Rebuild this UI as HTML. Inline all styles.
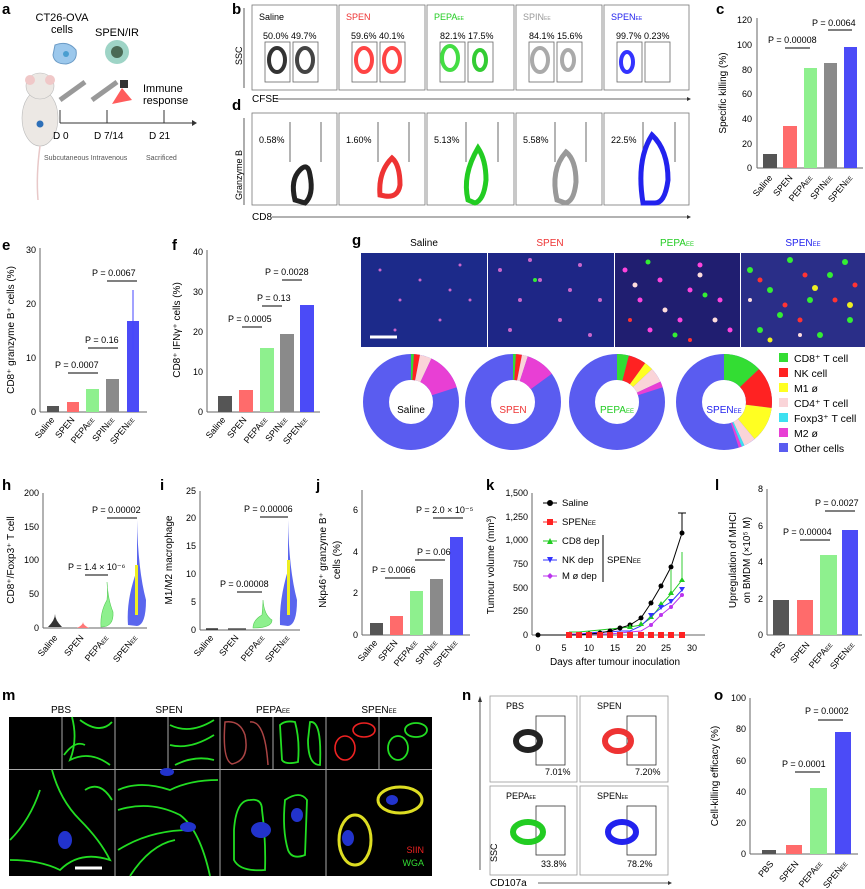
<!DOCTYPE html>
<html><head><meta charset="utf-8"><style>
body{margin:0;background:#fff;}
svg{display:block;font-family:"Liberation Sans",sans-serif;}
</style></head><body>
<svg width="865" height="889" viewBox="0 0 865 889" xmlns="http://www.w3.org/2000/svg">
<g font-weight="bold" font-size="15" fill="#000">
<text x="2" y="14">a</text><text x="232" y="14">b</text><text x="716" y="14">c</text>
<text x="232" y="110">d</text><text x="2" y="250">e</text><text x="172" y="250">f</text>
<text x="352" y="245">g</text><text x="2" y="490">h</text><text x="160" y="490">i</text>
<text x="316" y="490">j</text><text x="486" y="490">k</text><text x="715" y="490">l</text>
<text x="2" y="700">m</text><text x="462" y="700">n</text><text x="714" y="700">o</text>
</g>
<!-- panel a -->
<g font-size="11">
<text x="62" y="21" text-anchor="middle">CT26-OVA</text><text x="62" y="33" text-anchor="middle">cells</text>
<text x="117" y="36" text-anchor="middle">SPEN/IR</text>
<path d="M55 45 Q68 40 76 50 Q78 62 66 64 Q54 64 53 55Z" fill="#9cc8ec" stroke="#6b9bc6"/>
<circle cx="66" cy="54" r="3" fill="#4a9ed0"/>
<circle cx="117" cy="52" r="12" fill="#9ed4c6"/><circle cx="117" cy="52" r="6" fill="#4a6a55"/>
<ellipse cx="40" cy="118" rx="18" ry="28" fill="#ece8e4" stroke="#bbb" stroke-width="0.6"/>
<ellipse cx="40" cy="86" rx="14" ry="13" fill="#ece8e4" stroke="#bbb" stroke-width="0.6"/>
<circle cx="30" cy="80" r="5" fill="#f0c8c8"/><circle cx="50" cy="80" r="5" fill="#f0c8c8"/>
<circle cx="40" cy="124" r="3.5" fill="#2d6fb8"/>
<path d="M40 146 Q36 175 38 200" stroke="#e8c8c8" fill="none" stroke-width="1.5"/>
<path d="M60 100 L85 82" stroke="#999" stroke-width="5"/><path d="M92 100 L117 82" stroke="#999" stroke-width="5"/>
<rect x="120" y="80" width="8" height="8" fill="#333"/><path d="M122 88 L112 104 L132 100Z" fill="#f33" opacity="0.8"/>
<line x1="60" y1="123" x2="192" y2="123" stroke="#333"/><polygon points="192,120 197,123 192,126" fill="#333"/>
<line x1="60" y1="110" x2="60" y2="123" stroke="#333"/><line x1="107" y1="110" x2="107" y2="123" stroke="#333"/><line x1="164" y1="110" x2="164" y2="123" stroke="#333"/>
<text x="53" y="139" font-size="10">D 0</text><text x="94" y="139" font-size="10">D 7/14</text><text x="149" y="139" font-size="10">D 21</text>
<text x="44" y="160" font-size="7" fill="#555">Subcutaneous Intravenous</text><text x="146" y="160" font-size="7" fill="#555">Sacrificed</text>
<text x="143" y="92" font-size="11">Immune</text><text x="143" y="104" font-size="11">response</text>
</g>
<!-- panel b -->
<g font-size="9">
<text x="242" y="65" transform="rotate(-90 242 65)">SSC</text>
<line x1="244" y1="8" x2="244" y2="88" stroke="#333" stroke-width="0.8"/>
<g fill="none" stroke="#777" stroke-width="0.8">
<rect x="252" y="5" width="85" height="85"/><rect x="339" y="5" width="86" height="85"/><rect x="427" y="5" width="87" height="85"/><rect x="516" y="5" width="86" height="85"/><rect x="604" y="5" width="85" height="85"/>
<rect x="252" y="113" width="85" height="92"/><rect x="339" y="113" width="86" height="92"/><rect x="427" y="113" width="87" height="92"/><rect x="516" y="113" width="86" height="92"/><rect x="604" y="113" width="85" height="92"/>
</g>
<text x="259" y="20">Saline</text><text x="346" y="20" fill="#e33">SPEN</text><text x="434" y="20" fill="#2c2">PEPA<tspan font-size="5">EE</tspan></text><text x="523" y="20" fill="#999">SPIN<tspan font-size="5">EE</tspan></text><text x="611" y="20" fill="#22e">SPEN<tspan font-size="5">EE</tspan></text>
<text x="263" y="39">50.0% 49.7%</text><text x="351" y="39">59.6% 40.1%</text><text x="440" y="39">82.1% 17.5%</text><text x="529" y="39">84.1% 15.6%</text><text x="616" y="39">99.7% 0.23%</text>
<g fill="none" stroke="#666" stroke-width="0.8">
<rect x="265" y="42" width="25" height="40"/><rect x="293" y="42" width="25" height="40"/>
<rect x="352" y="42" width="25" height="40"/><rect x="380" y="42" width="25" height="40"/>
<rect x="440" y="42" width="25" height="40"/><rect x="468" y="42" width="25" height="40"/>
<rect x="529" y="42" width="25" height="40"/><rect x="557" y="42" width="25" height="40"/>
<rect x="617" y="42" width="25" height="40"/><rect x="645" y="42" width="25" height="40"/>
</g>
<g stroke-width="4" fill="none">
<ellipse cx="277" cy="60" rx="8" ry="12" stroke="#333"/><ellipse cx="305" cy="60" rx="8" ry="12" stroke="#444"/>
<ellipse cx="364" cy="60" rx="8" ry="12" stroke="#f44"/><ellipse cx="392" cy="60" rx="8" ry="12" stroke="#f44"/>
<ellipse cx="450" cy="58" rx="8" ry="12" stroke="#4d4"/><ellipse cx="480" cy="60" rx="6" ry="10" stroke="#3c3"/>
<ellipse cx="540" cy="60" rx="8" ry="12" stroke="#aaa"/><ellipse cx="568" cy="60" rx="6" ry="10" stroke="#aaa"/>
<ellipse cx="627" cy="62" rx="6" ry="10" stroke="#33f"/>
</g>
<text x="252" y="102" font-size="10">CFSE</text><line x1="276" y1="99" x2="687" y2="99" stroke="#333" stroke-width="0.8"/><polygon points="687,97 691,99 687,101" fill="#333"/>
<text x="242" y="200" transform="rotate(-90 242 200)">Granzyme B</text>
<line x1="244" y1="118" x2="244" y2="205" stroke="#333" stroke-width="0.8"/>
<text x="259" y="143">0.58%</text><text x="346" y="143">1.60%</text><text x="434" y="143">5.13%</text><text x="523" y="143">5.58%</text><text x="611" y="143">22.5%</text>
<g stroke="#444" stroke-width="0.8">
<line x1="290" y1="122" x2="290" y2="162"/><line x1="321" y1="122" x2="321" y2="162"/>
<line x1="378" y1="122" x2="378" y2="162"/><line x1="409" y1="122" x2="409" y2="162"/>
<line x1="466" y1="122" x2="466" y2="162"/><line x1="498" y1="122" x2="498" y2="162"/>
<line x1="555" y1="122" x2="555" y2="162"/><line x1="586" y1="122" x2="586" y2="162"/>
<line x1="643" y1="122" x2="643" y2="162"/><line x1="675" y1="122" x2="675" y2="162"/>
</g>
<g fill="none" stroke-width="5">
<path d="M295 200 Q290 180 300 170 Q308 162 310 175 Q314 195 305 203Z" stroke="#222"/>
<path d="M380 195 Q378 172 392 158 Q400 165 400 185 Q398 198 385 196Z" stroke="#e33"/>
<path d="M468 200 Q462 175 478 148 Q486 160 486 180 Q484 200 475 203Z" stroke="#2c2"/>
<path d="M557 200 Q550 170 566 152 Q576 160 576 182 Q574 202 565 203Z" stroke="#999"/>
<path d="M643 203 Q636 160 652 135 Q668 150 668 180 Q665 203 655 203Z" stroke="#22e"/>
</g>
<text x="252" y="220" font-size="10">CD8</text><line x1="272" y1="217" x2="687" y2="217" stroke="#333" stroke-width="0.8"/><polygon points="687,215 691,217 687,219" fill="#333"/>
</g>
<!-- panel c -->
<g font-size="9">
<line x1="757" y1="18" x2="757" y2="168" stroke="#666"/><line x1="757" y1="168" x2="863" y2="168" stroke="#666"/>
<g text-anchor="end"><text x="752" y="171">0</text><text x="752" y="147">20</text><text x="752" y="122">40</text><text x="752" y="97">60</text><text x="752" y="73">80</text><text x="752" y="48">100</text><text x="752" y="23">120</text></g>
<text x="726" y="93" font-size="10" transform="rotate(-90 726 93)" text-anchor="middle">Specific killing (%)</text>
<rect x="763" y="154" width="14" height="14" fill="#555"/><rect x="783" y="126" width="14" height="42" fill="#ff6b6b"/><rect x="804" y="68" width="13" height="100" fill="#8ef08e"/><rect x="824" y="63" width="13" height="105" fill="#8a8a8a"/><rect x="844" y="47" width="13" height="121" fill="#4b4bf7"/>
<line x1="785" y1="48" x2="810" y2="48" stroke="#000"/><text x="768" y="43">P = 0.00008</text>
<line x1="828" y1="30" x2="852" y2="30" stroke="#000"/><text x="812" y="26">P = 0.0064</text>
<text transform="translate(773,178) rotate(-50)" text-anchor="end">Saline</text><text transform="translate(793,178) rotate(-50)" text-anchor="end">SPEN</text><text transform="translate(813,178) rotate(-50)" text-anchor="end">PEPA<tspan font-size="6">EE</tspan></text><text transform="translate(833,178) rotate(-50)" text-anchor="end">SPIN<tspan font-size="6">EE</tspan></text><text transform="translate(853,178) rotate(-50)" text-anchor="end">SPEN<tspan font-size="6">EE</tspan></text>
</g>
<!-- panel e -->
<g font-size="9">
<line x1="40" y1="248" x2="40" y2="412" stroke="#666"/><line x1="40" y1="412" x2="147" y2="412" stroke="#666"/>
<g text-anchor="end"><text x="36" y="415">0</text><text x="36" y="361">10</text><text x="36" y="307">20</text><text x="36" y="253">30</text></g>
<text x="14" y="330" font-size="10" transform="rotate(-90 14 330)" text-anchor="middle">CD8⁺ granzyme B⁺ cells (%)</text>
<rect x="47" y="406" width="12" height="6" fill="#555"/><rect x="67" y="402" width="12" height="10" fill="#ff6b6b"/><rect x="86" y="389" width="13" height="23" fill="#8ef08e"/><rect x="106" y="379" width="13" height="33" fill="#8a8a8a"/><rect x="127" y="321" width="12" height="91" fill="#4b4bf7"/>
<line x1="133" y1="290" x2="133" y2="350" stroke="#44f"/>
<line x1="68" y1="373" x2="98" y2="373" stroke="#000"/><text x="55" y="368">P = 0.0007</text>
<line x1="88" y1="348" x2="118" y2="348" stroke="#000"/><text x="85" y="343">P = 0.16</text>
<line x1="107" y1="281" x2="137" y2="281" stroke="#000"/><text x="92" y="276">P = 0.0067</text>
<text transform="translate(55,420) rotate(-50)" text-anchor="end">Saline</text><text transform="translate(75,420) rotate(-50)" text-anchor="end">SPEN</text><text transform="translate(95,420) rotate(-50)" text-anchor="end">PEPA<tspan font-size="6">EE</tspan></text><text transform="translate(115,420) rotate(-50)" text-anchor="end">SPIN<tspan font-size="6">EE</tspan></text><text transform="translate(135,420) rotate(-50)" text-anchor="end">SPEN<tspan font-size="6">EE</tspan></text>
</g>
<!-- panel f -->
<g font-size="9">
<line x1="207" y1="250" x2="207" y2="412" stroke="#666"/><line x1="207" y1="412" x2="320" y2="412" stroke="#666"/>
<g text-anchor="end"><text x="203" y="415">0</text><text x="203" y="375">10</text><text x="203" y="335">20</text><text x="203" y="295">30</text><text x="203" y="255">40</text></g>
<text x="180" y="330" font-size="10" transform="rotate(-90 180 330)" text-anchor="middle">CD8⁺ IFNγ⁺ cells (%)</text>
<rect x="218" y="396" width="14" height="16" fill="#555"/><rect x="239" y="390" width="14" height="22" fill="#ff6b6b"/><rect x="260" y="348" width="14" height="64" fill="#8ef08e"/><rect x="280" y="334" width="14" height="78" fill="#8a8a8a"/><rect x="300" y="305" width="14" height="107" fill="#4b4bf7"/>
<line x1="242" y1="327" x2="262" y2="327" stroke="#000"/><text x="228" y="322">P = 0.0005</text>
<line x1="262" y1="306" x2="282" y2="306" stroke="#000"/><text x="257" y="301">P = 0.13</text>
<line x1="282" y1="280" x2="302" y2="280" stroke="#000"/><text x="265" y="275">P = 0.0028</text>
<text transform="translate(226,420) rotate(-50)" text-anchor="end">Saline</text><text transform="translate(247,420) rotate(-50)" text-anchor="end">SPEN</text><text transform="translate(268,420) rotate(-50)" text-anchor="end">PEPA<tspan font-size="6">EE</tspan></text><text transform="translate(288,420) rotate(-50)" text-anchor="end">SPIN<tspan font-size="6">EE</tspan></text><text transform="translate(308,420) rotate(-50)" text-anchor="end">SPEN<tspan font-size="6">EE</tspan></text>
</g>
<!-- panel g -->
<g font-size="10" text-anchor="middle">
<text x="424" y="246">Saline</text><text x="550" y="246" fill="#e33">SPEN</text><text x="677" y="246" fill="#2c2">PEPA<tspan font-size="6">EE</tspan></text><text x="803" y="246" fill="#22e">SPEN<tspan font-size="6">EE</tspan></text>
</g>
<rect x="361" y="253" width="126" height="94" fill="#1c2a8a"/><rect x="488" y="253" width="126" height="94" fill="#1e2686"/><rect x="615" y="253" width="125" height="94" fill="#201e70"/><rect x="741" y="253" width="124" height="94" fill="#2a2e88"/>
<g fill="#c6c"><circle cx="380" cy="270" r="1.5"/><circle cx="400" cy="300" r="1.5"/><circle cx="420" cy="280" r="1.5"/><circle cx="440" cy="320" r="1.5"/><circle cx="460" cy="265" r="1.5"/><circle cx="470" cy="300" r="1.5"/><circle cx="395" cy="330" r="1.5"/><circle cx="450" cy="290" r="1.5"/>
<circle cx="500" cy="270" r="2"/><circle cx="520" cy="300" r="2"/><circle cx="540" cy="280" r="2"/><circle cx="560" cy="320" r="2"/><circle cx="580" cy="265" r="2"/><circle cx="600" cy="300" r="2"/><circle cx="510" cy="330" r="2"/><circle cx="570" cy="290" r="2"/><circle cx="530" cy="260" r="2"/><circle cx="590" cy="335" r="2"/></g>
<g fill="#f4d"><circle cx="625" cy="270" r="2.5"/><circle cx="640" cy="300" r="2.5"/><circle cx="660" cy="280" r="2.5"/><circle cx="680" cy="320" r="2.5"/><circle cx="700" cy="265" r="2.5"/><circle cx="720" cy="300" r="2.5"/><circle cx="650" cy="330" r="2.5"/><circle cx="690" cy="290" r="2.5"/><circle cx="730" cy="330" r="2.5"/></g>
<g fill="#fdd"><circle cx="635" cy="285" r="2.5"/><circle cx="665" cy="310" r="2.5"/><circle cx="700" cy="275" r="2.5"/><circle cx="715" cy="320" r="2.5"/><circle cx="750" cy="300" r="2"/><circle cx="800" cy="335" r="2"/></g>
<g fill="#3e3"><circle cx="648" cy="262" r="2.5"/><circle cx="705" cy="295" r="2.5"/><circle cx="675" cy="335" r="2.5"/><circle cx="535" cy="280" r="2"/>
<circle cx="750" cy="270" r="3"/><circle cx="770" cy="290" r="3"/><circle cx="790" cy="260" r="3"/><circle cx="810" cy="300" r="3"/><circle cx="830" cy="275" r="3"/><circle cx="850" cy="320" r="3"/><circle cx="760" cy="330" r="3"/><circle cx="820" cy="335" r="3"/><circle cx="845" cy="262" r="3"/><circle cx="780" cy="315" r="3"/></g>
<g fill="#f33"><circle cx="760" cy="280" r="2.5"/><circle cx="785" cy="305" r="2.5"/><circle cx="805" cy="275" r="2.5"/><circle cx="835" cy="300" r="2.5"/><circle cx="855" cy="285" r="2.5"/><circle cx="800" cy="320" r="2.5"/><circle cx="630" cy="320" r="2"/><circle cx="690" cy="340" r="2"/></g>
<g fill="#ee2"><circle cx="815" cy="288" r="3"/><circle cx="850" cy="305" r="3"/><circle cx="770" cy="340" r="2.5"/></g>
<line x1="370" y1="337" x2="397" y2="337" stroke="#fff" stroke-width="3"/>
<g fill="none" stroke-width="26">
<circle cx="411" cy="402" r="35" stroke="#5a5cf0"/>
<circle cx="411" cy="402" r="35" pathLength="100" stroke="#3d3" stroke-dasharray="1 100" transform="rotate(-90 411 402)"/>
<circle cx="411" cy="402" r="35" pathLength="100" stroke="#f22" stroke-dasharray="2 100" stroke-dashoffset="-1" transform="rotate(-90 411 402)"/>
<circle cx="411" cy="402" r="35" pathLength="100" stroke="#fad4d8" stroke-dasharray="4 100" stroke-dashoffset="-3" transform="rotate(-90 411 402)"/>
<circle cx="411" cy="402" r="35" pathLength="100" stroke="#e83fd4" stroke-dasharray="13 100" stroke-dashoffset="-7" transform="rotate(-90 411 402)"/>
<circle cx="513" cy="402" r="35" stroke="#5a5cf0"/>
<circle cx="513" cy="402" r="35" pathLength="100" stroke="#3d3" stroke-dasharray="1 100" transform="rotate(-90 513 402)"/>
<circle cx="513" cy="402" r="35" pathLength="100" stroke="#f22" stroke-dasharray="2 100" stroke-dashoffset="-1" transform="rotate(-90 513 402)"/>
<circle cx="513" cy="402" r="35" pathLength="100" stroke="#fad4d8" stroke-dasharray="2 100" stroke-dashoffset="-3" transform="rotate(-90 513 402)"/>
<circle cx="513" cy="402" r="35" pathLength="100" stroke="#e83fd4" stroke-dasharray="10 100" stroke-dashoffset="-5" transform="rotate(-90 513 402)"/>
<circle cx="617" cy="402" r="35" stroke="#5a5cf0"/>
<circle cx="617" cy="402" r="35" pathLength="100" stroke="#3d3" stroke-dasharray="4 100" transform="rotate(-90 617 402)"/>
<circle cx="617" cy="402" r="35" pathLength="100" stroke="#f22" stroke-dasharray="6 100" stroke-dashoffset="-4" transform="rotate(-90 617 402)"/>
<circle cx="617" cy="402" r="35" pathLength="100" stroke="#ff2" stroke-dasharray="3 100" stroke-dashoffset="-10" transform="rotate(-90 617 402)"/>
<circle cx="617" cy="402" r="35" pathLength="100" stroke="#fad4d8" stroke-dasharray="5 100" stroke-dashoffset="-13" transform="rotate(-90 617 402)"/>
<circle cx="617" cy="402" r="35" pathLength="100" stroke="#e83fd4" stroke-dasharray="2 100" stroke-dashoffset="-18" transform="rotate(-90 617 402)"/>
<circle cx="724" cy="402" r="35" stroke="#5a5cf0"/>
<circle cx="724" cy="402" r="35" pathLength="100" stroke="#3d3" stroke-dasharray="13 100" transform="rotate(-90 724 402)"/>
<circle cx="724" cy="402" r="35" pathLength="100" stroke="#f22" stroke-dasharray="14 100" stroke-dashoffset="-13" transform="rotate(-90 724 402)"/>
<circle cx="724" cy="402" r="35" pathLength="100" stroke="#ff2" stroke-dasharray="12 100" stroke-dashoffset="-27" transform="rotate(-90 724 402)"/>
<circle cx="724" cy="402" r="35" pathLength="100" stroke="#fad4d8" stroke-dasharray="4 100" stroke-dashoffset="-39" transform="rotate(-90 724 402)"/>
<circle cx="724" cy="402" r="35" pathLength="100" stroke="#3de0f0" stroke-dasharray="1 100" stroke-dashoffset="-43" transform="rotate(-90 724 402)"/>
<circle cx="724" cy="402" r="35" pathLength="100" stroke="#e83fd4" stroke-dasharray="1 100" stroke-dashoffset="-44" transform="rotate(-90 724 402)"/>
</g>
<g font-size="10" text-anchor="middle"><text x="411" y="413">Saline</text><text x="513" y="413" fill="#e33">SPEN</text><text x="617" y="413" fill="#2c2">PEPA<tspan font-size="6">EE</tspan></text><text x="724" y="413" fill="#22e">SPEN<tspan font-size="6">EE</tspan></text></g>
<g font-size="10.5">
<rect x="779" y="353" width="9" height="9" fill="#3d3"/><text x="794" y="362">CD8⁺ T cell</text>
<rect x="779" y="368" width="9" height="9" fill="#f22"/><text x="794" y="377">NK cell</text>
<rect x="779" y="383" width="9" height="9" fill="#ff2"/><text x="794" y="392">M1 ø</text>
<rect x="779" y="398" width="9" height="9" fill="#fad4d8"/><text x="794" y="407">CD4⁺ T cell</text>
<rect x="779" y="413" width="9" height="9" fill="#3de0f0"/><text x="794" y="422">Foxp3⁺ T cell</text>
<rect x="779" y="428" width="9" height="9" fill="#e83fd4"/><text x="794" y="437">M2 ø</text>
<rect x="779" y="443" width="9" height="9" fill="#5a5cf0"/><text x="794" y="452">Other cells</text>
</g>
<!-- h -->
<g font-size="9">
<line x1="43" y1="493" x2="43" y2="628" stroke="#666"/><line x1="43" y1="628" x2="147" y2="628" stroke="#666"/>
<g text-anchor="end"><text x="39" y="631">0</text><text x="39" y="597">50</text><text x="39" y="563">100</text><text x="39" y="530">150</text><text x="39" y="496">200</text></g>
<text x="14" y="560" font-size="10" transform="rotate(-90 14 560)" text-anchor="middle">CD8⁺/Foxp3⁺ T cell</text>
<path d="M48 627 Q55 620 55 614 Q55 620 62 627Z" fill="#333"/><path d="M77 628 Q83 625 83 622 Q83 625 89 628Z" fill="#f77"/>
<path d="M101 627 Q100 612 107 600 Q108 590 107 582 Q108 600 113 612 Q114 627 101 627Z" fill="#8ef08e" stroke="#5c5" stroke-width="0.6"/>
<path d="M128 625 Q126 600 137 570 Q137 540 137 520 Q138 570 146 600 Q146 625 137 626Z" fill="#5a66ee"/>
<rect x="135" y="565" width="3" height="50" fill="#ee2"/>
<line x1="85" y1="575" x2="108" y2="575" stroke="#000"/><text x="68" y="570">P = 1.4 × 10⁻⁶</text>
<line x1="107" y1="518" x2="137" y2="518" stroke="#000"/><text x="92" y="513">P = 0.00002</text>
<text transform="translate(58,638) rotate(-50)" text-anchor="end">Saline</text><text transform="translate(84,638) rotate(-50)" text-anchor="end">SPEN</text><text transform="translate(109,638) rotate(-50)" text-anchor="end">PEPA<tspan font-size="6">EE</tspan></text><text transform="translate(138,638) rotate(-50)" text-anchor="end">SPEN<tspan font-size="6">EE</tspan></text>
</g>
<!-- i -->
<g font-size="9">
<line x1="200" y1="491" x2="200" y2="630" stroke="#666"/><line x1="200" y1="630" x2="300" y2="630" stroke="#666"/>
<g text-anchor="end"><text x="196" y="633">0</text><text x="196" y="605">5</text><text x="196" y="577">10</text><text x="196" y="549">15</text><text x="196" y="521">20</text><text x="196" y="494">25</text></g>
<text x="172" y="560" font-size="10" transform="rotate(-90 172 560)" text-anchor="middle">M1/M2 macrophage</text>
<line x1="206" y1="629" x2="218" y2="629" stroke="#333" stroke-width="1.5"/><line x1="228" y1="629" x2="246" y2="629" stroke="#555" stroke-width="1.5"/>
<path d="M253 628 Q253 620 262 615 Q263 605 263 600 Q264 615 272 620 Q272 628 253 628Z" fill="#8ef08e" stroke="#5c5" stroke-width="0.6"/>
<path d="M280 625 Q279 600 288 570 Q288 540 288 520 Q289 570 297 600 Q297 625 288 626Z" fill="#5a66ee"/>
<rect x="287" y="560" width="3" height="55" fill="#ee2"/>
<line x1="237" y1="592" x2="262" y2="592" stroke="#000"/><text x="220" y="587">P = 0.00008</text>
<line x1="260" y1="517" x2="288" y2="517" stroke="#000"/><text x="244" y="512">P = 0.00006</text>
<text transform="translate(214,638) rotate(-50)" text-anchor="end">Saline</text><text transform="translate(239,638) rotate(-50)" text-anchor="end">SPEN</text><text transform="translate(265,638) rotate(-50)" text-anchor="end">PEPA<tspan font-size="6">EE</tspan></text><text transform="translate(290,638) rotate(-50)" text-anchor="end">SPEN<tspan font-size="6">EE</tspan></text>
</g>
<!-- j -->
<g font-size="9">
<line x1="362" y1="490" x2="362" y2="635" stroke="#666"/><line x1="362" y1="635" x2="470" y2="635" stroke="#666"/>
<g text-anchor="end"><text x="358" y="638">0</text><text x="358" y="596">2</text><text x="358" y="555">4</text><text x="358" y="513">6</text></g>
<text x="326" y="560" font-size="10" transform="rotate(-90 326 560)" text-anchor="middle">Nkp46⁺ granzyme B⁺</text><text x="340" y="560" font-size="10" transform="rotate(-90 340 560)" text-anchor="middle">cells (%)</text>
<rect x="370" y="623" width="13" height="12" fill="#555"/><rect x="390" y="616" width="13" height="19" fill="#ff6b6b"/><rect x="410" y="591" width="13" height="44" fill="#8ef08e"/><rect x="430" y="579" width="13" height="56" fill="#8a8a8a"/><rect x="450" y="537" width="13" height="98" fill="#4b4bf7"/>
<line x1="385" y1="578" x2="410" y2="578" stroke="#000"/><text x="372" y="573">P = 0.0066</text>
<line x1="415" y1="560" x2="445" y2="560" stroke="#000"/><text x="417" y="555">P = 0.06</text>
<line x1="433" y1="518" x2="463" y2="518" stroke="#000"/><text x="416" y="513">P = 2.0 × 10⁻⁵</text>
<text transform="translate(378,643) rotate(-50)" text-anchor="end">Saline</text><text transform="translate(398,643) rotate(-50)" text-anchor="end">SPEN</text><text transform="translate(418,643) rotate(-50)" text-anchor="end">PEPA<tspan font-size="6">EE</tspan></text><text transform="translate(438,643) rotate(-50)" text-anchor="end">SPIN<tspan font-size="6">EE</tspan></text><text transform="translate(458,643) rotate(-50)" text-anchor="end">SPEN<tspan font-size="6">EE</tspan></text>
</g>
<!-- k -->
<g font-size="9">
<line x1="532" y1="493" x2="532" y2="635" stroke="#666"/><line x1="532" y1="635" x2="705" y2="635" stroke="#666"/>
<g text-anchor="end"><text x="528" y="638">0</text><text x="528" y="614">250</text><text x="528" y="591">500</text><text x="528" y="567">750</text><text x="528" y="543">1,000</text><text x="528" y="520">1,250</text><text x="528" y="496">1,500</text></g>
<text x="494" y="565" font-size="10" transform="rotate(-90 494 565)" text-anchor="middle">Tumour volume (mm³)</text>
<g text-anchor="middle"><text x="538" y="651">0</text><text x="564" y="651">5</text><text x="589" y="651">10</text><text x="615" y="651">15</text><text x="641" y="651">20</text><text x="666" y="651">25</text><text x="692" y="651">30</text></g>
<text x="615" y="665" font-size="10" text-anchor="middle">Days after tumour inoculation</text>
<line x1="682" y1="513" x2="682" y2="533" stroke="#000"/><line x1="678" y1="513" x2="686" y2="513" stroke="#000"/>
<line x1="682" y1="552" x2="682" y2="580" stroke="#3c3"/><line x1="671" y1="570" x2="671" y2="593" stroke="#3c3"/>
<polyline points="569,632 579,632 589,631 600,630 610,629 620,628 630,627 641,625 651,618 661,605 671,594 682,580" fill="none" stroke="#2c2" stroke-width="1"/>
<polyline points="569,634 579,634 589,633 600,632 610,632 620,631 630,631 641,626 651,616 661,608 671,602 682,590" fill="none" stroke="#33f" stroke-width="1"/>
<polyline points="569,634 579,634 589,634 600,634 610,634 620,633 630,632 641,631 651,625 661,615 671,607 682,595" fill="none" stroke="#b3e" stroke-width="1"/>
<polyline points="538,635 569,635 579,635 589,634 600,633 610,631 620,628 630,625 641,618 651,603 661,586 671,567 682,533" fill="none" stroke="#000" stroke-width="1"/>
<g fill="#000"><circle cx="538" cy="635" r="2.5"/><circle cx="569" cy="635" r="2.5"/><circle cx="579" cy="635" r="2.5"/><circle cx="589" cy="634" r="2.5"/><circle cx="600" cy="633" r="2.5"/><circle cx="610" cy="631" r="2.5"/><circle cx="620" cy="628" r="2.5"/><circle cx="630" cy="625" r="2.5"/><circle cx="641" cy="618" r="2.5"/><circle cx="651" cy="603" r="2.5"/><circle cx="661" cy="586" r="2.5"/><circle cx="671" cy="567" r="2.5"/><circle cx="682" cy="533" r="2.5"/></g>
<g fill="#2c2"><polygon points="630,624 633,629 627,629"/><polygon points="641,621 644,626 638,626"/><polygon points="651,614 654,619 648,619"/><polygon points="661,601 664,606 658,606"/><polygon points="671,590 674,595 668,595"/><polygon points="682,577 685,582 679,582"/></g>
<g fill="#33f"><polygon points="648,613 654,613 651,618"/><polygon points="658,605 664,605 661,610"/><polygon points="668,599 674,599 671,604"/><polygon points="679,587 685,587 682,592"/></g>
<g fill="#b3e"><circle cx="651" cy="625" r="2"/><circle cx="661" cy="615" r="2"/><circle cx="671" cy="607" r="2"/><circle cx="682" cy="595" r="2"/></g>
<g fill="#f22"><rect x="566" y="632" width="6" height="6"/><rect x="576" y="632" width="6" height="6"/><rect x="586" y="632" width="6" height="6"/><rect x="597" y="632" width="6" height="6"/><rect x="607" y="632" width="6" height="6"/><rect x="617" y="632" width="6" height="6"/><rect x="627" y="632" width="6" height="6"/><rect x="638" y="632" width="6" height="6"/><rect x="648" y="632" width="6" height="6"/><rect x="658" y="632" width="6" height="6"/><rect x="668" y="632" width="6" height="6"/><rect x="679" y="632" width="6" height="6"/></g>
<g font-size="9.5">
<line x1="543" y1="503" x2="557" y2="503" stroke="#000"/><circle cx="550" cy="503" r="3"/><text x="562" y="506">Saline</text>
<line x1="543" y1="522" x2="557" y2="522" stroke="#f22"/><rect x="547" y="519" width="6" height="6" fill="#f22"/><text x="562" y="525">SPEN<tspan font-size="6">EE</tspan></text>
<line x1="543" y1="541" x2="557" y2="541" stroke="#2c2"/><polygon points="550,538 553,544 547,544" fill="#2c2"/><text x="562" y="544">CD8 dep</text>
<line x1="543" y1="560" x2="557" y2="560" stroke="#33f"/><polygon points="547,557 553,557 550,563" fill="#33f"/><text x="562" y="563">NK dep</text>
<line x1="543" y1="576" x2="557" y2="576" stroke="#b3e"/><polygon points="550,573 553,576 550,579 547,576" fill="#b3e"/><text x="562" y="579">M ø dep</text>
<line x1="603" y1="535" x2="603" y2="582" stroke="#000"/><text x="607" y="563">SPEN<tspan font-size="6">EE</tspan></text>
</g>
</g>
<!-- l -->
<g font-size="9">
<line x1="767" y1="489" x2="767" y2="635" stroke="#666"/><line x1="767" y1="635" x2="862" y2="635" stroke="#666"/>
<g text-anchor="end"><text x="763" y="638">0</text><text x="763" y="602">2</text><text x="763" y="565">4</text><text x="763" y="529">6</text><text x="763" y="492">8</text></g>
<text x="736" y="560" font-size="10" transform="rotate(-90 736 560)" text-anchor="middle">Upregulation of MHCI</text><text x="750" y="560" font-size="10" transform="rotate(-90 750 560)" text-anchor="middle">on BMDM (×10⁵ M)</text>
<rect x="773" y="600" width="16" height="35" fill="#555"/><rect x="797" y="600" width="16" height="35" fill="#ff6b6b"/><rect x="820" y="555" width="17" height="80" fill="#8ef08e"/><rect x="842" y="530" width="16" height="105" fill="#4b4bf7"/>
<line x1="800" y1="540" x2="830" y2="540" stroke="#000"/><text x="783" y="535">P = 0.00004</text>
<line x1="825" y1="511" x2="855" y2="511" stroke="#000"/><text x="815" y="506">P = 0.0027</text>
<text transform="translate(786,645) rotate(-50)" text-anchor="end">PBS</text><text transform="translate(810,645) rotate(-50)" text-anchor="end">SPEN</text><text transform="translate(833,645) rotate(-50)" text-anchor="end">PEPA<tspan font-size="6">EE</tspan></text><text transform="translate(855,645) rotate(-50)" text-anchor="end">SPEN<tspan font-size="6">EE</tspan></text>
</g>
<!-- m -->
<g font-size="10" text-anchor="middle"><text x="61" y="713">PBS</text><text x="169" y="713">SPEN</text><text x="273" y="713">PEPA<tspan font-size="6">EE</tspan></text><text x="379" y="713">SPEN<tspan font-size="6">EE</tspan></text></g>
<rect x="9" y="717" width="423" height="159" fill="#000"/>
<g stroke="#aaa" stroke-width="1"><line x1="9" y1="769.5" x2="432" y2="769.5"/><line x1="115" y1="717" x2="115" y2="876"/><line x1="220" y1="717" x2="220" y2="876"/><line x1="326" y1="717" x2="326" y2="876"/><line x1="62" y1="717" x2="62" y2="769"/><line x1="168" y1="717" x2="168" y2="769"/><line x1="273" y1="717" x2="273" y2="769"/><line x1="379" y1="717" x2="379" y2="769"/></g>
<g fill="none" stroke="#2d2" stroke-width="1.8">
<path d="M72 717 Q78 740 70 760 Q90 750 110 765"/><path d="M80 720 Q100 735 112 722"/><path d="M64 755 Q75 740 85 745"/>
<path d="M170 725 Q190 735 214 720"/><path d="M170 745 Q190 750 214 735"/><path d="M175 765 Q195 755 214 760"/>
<path d="M280 725 Q285 720 295 722 Q300 740 298 762 Q285 765 282 760Z"/><path d="M310 722 Q322 720 320 765 Q308 765 308 740Z"/>
<ellipse cx="398" cy="748" rx="10" ry="12"/><ellipse cx="416" cy="730" rx="11" ry="7"/>
<path d="M52 770 Q60 800 80 820 Q100 840 110 860 Q80 850 60 870 Q40 860 10 860"/><path d="M10 840 Q30 820 40 790"/><path d="M85 790 Q100 780 112 800"/>
<path d="M118 790 Q140 780 170 790 Q190 780 218 780"/><path d="M118 810 Q150 800 180 815 Q200 830 210 876"/><path d="M130 876 Q150 845 175 840"/><path d="M118 850 Q150 830 190 830"/>
<path d="M234 830 Q236 800 250 800 Q262 798 262 810 Q266 840 265 870 Q240 872 234 860Z"/><path d="M285 800 Q300 790 307 800 Q306 830 305 855 Q292 860 288 850 Q282 830 285 800Z"/>
</g>
<g fill="none" stroke="#a44" stroke-width="1.5"><path d="M225 722 Q240 720 245 735 Q250 760 232 764 Q222 760 225 722Z"/><path d="M250 722 Q265 720 268 765"/></g>
<g fill="none" stroke="#e22" stroke-width="1.6"><ellipse cx="345" cy="748" rx="10" ry="12"/><ellipse cx="364" cy="730" rx="11" ry="7"/></g>
<g fill="none" stroke="#dd2" stroke-width="3"><ellipse cx="400" cy="800" rx="22" ry="13"/><ellipse cx="355" cy="840" rx="16" ry="25"/></g>
<g fill="#2233cc"><ellipse cx="65" cy="840" rx="7" ry="9"/><ellipse cx="188" cy="827" rx="8" ry="5"/><ellipse cx="167" cy="772" rx="7" ry="4"/><ellipse cx="261" cy="830" rx="10" ry="8"/><ellipse cx="297" cy="815" rx="6" ry="7"/><ellipse cx="392" cy="800" rx="6" ry="5"/><ellipse cx="348" cy="838" rx="6" ry="8"/></g>
<text x="424" y="853" font-size="9" fill="#e22" text-anchor="end">SIIN</text><text x="424" y="866" font-size="9" fill="#3d3" text-anchor="end">WGA</text>
<line x1="75" y1="868" x2="102" y2="868" stroke="#fff" stroke-width="3"/>
<!-- n -->
<g font-size="9">
<line x1="480" y1="698" x2="480" y2="870" stroke="#333" stroke-width="0.8"/><polygon points="478,702 480,696 482,702" fill="#333"/>
<text x="480" y="875" transform="rotate(-90 482 860)">SSC</text>
<text x="490" y="886" font-size="10">CD107a</text><line x1="538" y1="883" x2="668" y2="883" stroke="#333" stroke-width="0.8"/><polygon points="668,881 672,883 668,885" fill="#333"/>
<g fill="none" stroke="#999" stroke-width="0.8">
<rect x="490" y="696" width="87" height="86"/><rect x="580" y="696" width="88" height="86"/><rect x="490" y="786" width="87" height="89"/><rect x="580" y="786" width="88" height="89"/>
</g>
<g fill="none" stroke="#333" stroke-width="0.8"><rect x="536" y="716" width="29" height="49"/><rect x="627" y="716" width="29" height="49"/><rect x="536" y="806" width="29" height="49"/><rect x="627" y="806" width="29" height="49"/></g>
<text x="506" y="709">PBS</text><text x="597" y="709">SPEN</text><text x="506" y="799">PEPA<tspan font-size="5">EE</tspan></text><text x="597" y="799">SPEN<tspan font-size="5">EE</tspan></text>
<text x="545" y="775">7.01%</text><text x="635" y="775">7.20%</text><text x="541" y="867">33.8%</text><text x="627" y="867">78.2%</text>
<g fill="none" stroke-width="6"><ellipse cx="528" cy="741" rx="12" ry="9" stroke="#222"/><ellipse cx="618" cy="741" rx="13" ry="10" stroke="#e33"/><ellipse cx="528" cy="832" rx="15" ry="10" stroke="#2c2"/><ellipse cx="622" cy="832" rx="14" ry="10" stroke="#22e"/></g>
</g>
<!-- o -->
<g font-size="9">
<line x1="750" y1="698" x2="750" y2="854" stroke="#666"/><line x1="750" y1="854" x2="858" y2="854" stroke="#666"/>
<g text-anchor="end"><text x="746" y="857">0</text><text x="746" y="826">20</text><text x="746" y="795">40</text><text x="746" y="764">60</text><text x="746" y="732">80</text><text x="746" y="701">100</text></g>
<text x="718" y="776" font-size="10" transform="rotate(-90 718 776)" text-anchor="middle">Cell-killing efficacy (%)</text>
<rect x="762" y="850" width="14" height="4" fill="#555"/><rect x="786" y="845" width="16" height="9" fill="#ff6b6b"/><rect x="810" y="788" width="17" height="66" fill="#8ef08e"/><rect x="835" y="732" width="16" height="122" fill="#4b4bf7"/>
<line x1="795" y1="772" x2="820" y2="772" stroke="#000"/><text x="782" y="767">P = 0.0001</text>
<line x1="818" y1="720" x2="843" y2="720" stroke="#000"/><text x="805" y="714">P = 0.0002</text>
<text transform="translate(774,864) rotate(-50)" text-anchor="end">PBS</text><text transform="translate(799,864) rotate(-50)" text-anchor="end">SPEN</text><text transform="translate(823,864) rotate(-50)" text-anchor="end">PEPA<tspan font-size="6">EE</tspan></text><text transform="translate(848,864) rotate(-50)" text-anchor="end">SPEN<tspan font-size="6">EE</tspan></text>
</g>
</svg>
</body></html>
